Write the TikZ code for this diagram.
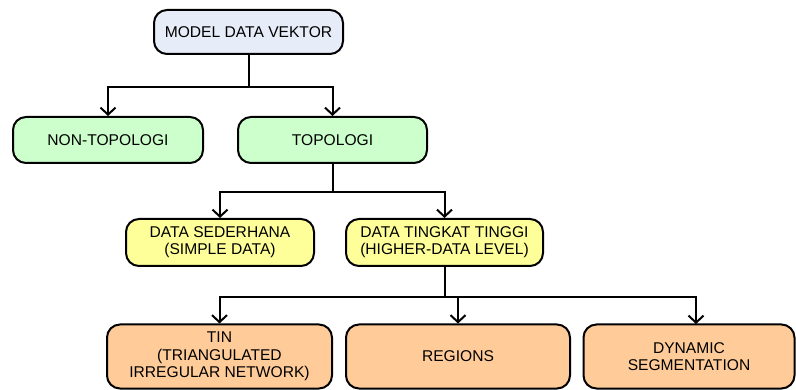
\documentclass[tikz,border=0pt]{standalone}
\usepackage{fontspec}
\setmainfont{Liberation Sans}
\usetikzlibrary{arrows.meta}
\definecolor{rootfill}{HTML}{E6ECF8}
\definecolor{greenfill}{HTML}{CCFFCC}
\definecolor{yellowfill}{HTML}{FFFF99}
\definecolor{orangefill}{HTML}{FFCC99}
\begin{document}
\begin{tikzpicture}[x=1pt,y=-1pt,
  box/.style={draw=black, line width=2pt, rounded corners=13pt, align=center,
    inner sep=0pt, font=\fontsize{15.6}{17.3}\selectfont},
  link/.style={draw=black, line width=2pt},
  arr/.style={link, -{Straight Barb[length=7pt,width=15pt,line width=2pt]}}]
\useasboundingbox (0,0) rectangle (796,390);
% tree nodes
\node[box, fill=rootfill, minimum width=189pt, minimum height=44pt] (root) at (248.5,32) {MODEL DATA VEKTOR};
\node[box, fill=greenfill, minimum width=190pt, minimum height=46pt] (nontop) at (108,140) {NON-TOPOLOGI};
\node[box, fill=greenfill, minimum width=189pt, minimum height=46pt] (top) at (332.5,140) {TOPOLOGI};
\node[box, fill=yellowfill, minimum width=188pt, minimum height=47pt] (simple) at (220,242.5) {DATA SEDERHANA\\(SIMPLE DATA)};
\node[box, fill=yellowfill, minimum width=197pt, minimum height=47pt] (higher) at (444.5,242.5) {DATA TINGKAT TINGGI\\(HIGHER-DATA LEVEL)};
\node[box, fill=orangefill, minimum width=225pt, minimum height=64pt] (tin) at (219.5,356.5) {TIN\\(TRIANGULATED\\IRREGULAR NETWORK)};
\node[box, fill=orangefill, minimum width=224pt, minimum height=64pt] (regions) at (458,356.5) {REGIONS};
\node[box, fill=orangefill, minimum width=211pt, minimum height=64pt] (dyn) at (689,356.5) {DYNAMIC\\SEGMENTATION};
% bus points
\coordinate (b1) at (248.5,87);
\coordinate (b2) at (332.5,192);
\coordinate (b3) at (444.5,297);
\coordinate (t3) at (696,324);
% connectors
\draw[link] (root.south) -- (b1);
\draw[arr] (b1) -| (nontop.north);
\draw[arr] (b1) -| (top.north);
\draw[link] (top.south) -- (b2);
\draw[arr] (b2) -| (simple.north);
\draw[arr] (b2) -| (higher.north);
\draw[link] (higher.south) -- (b3);
\draw[arr] (b3) -| (tin.north);
\draw[arr] (b3) -| (regions.north);
\draw[arr] (b3) -| (t3);
\end{tikzpicture}
\end{document}
